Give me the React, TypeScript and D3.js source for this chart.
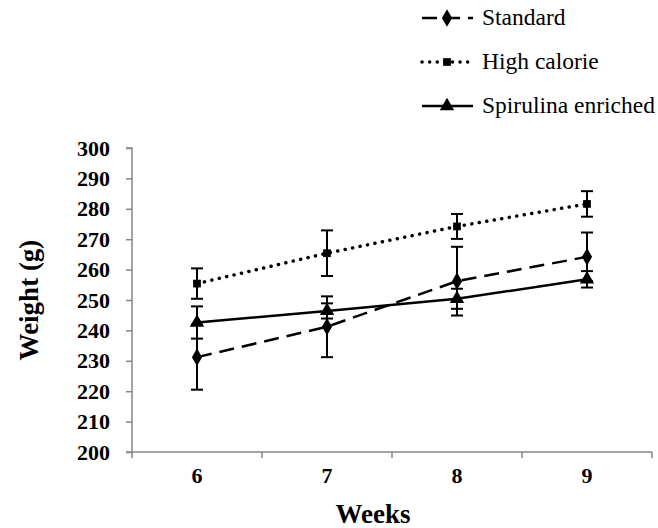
import * as d3 from 'd3';
import { useEffect, useRef } from 'react';

const weeks = ['6', '7', '8', '9'];
const yTicks = [200, 210, 220, 230, 240, 250, 260, 270, 280, 290, 300];

const standard = [231.2, 241.2, 256.2, 264.2];
const standardErr = [10.7, 10, 11.3, 8];
const highCalorie = [255.4, 265.4, 274.2, 281.6];
const highCalorieErr = [5, 7.5, 4.1, 4.2];
const spirulina = [242.6, 246.4, 250.4, 256.8];
const spirulinaErr = [5.3, 2.5, 3.3, 2.7];

const seriesNames = ['Standard', 'High calorie', 'Spirulina enriched'];

export default function App() {
    const ref = useRef<HTMLDivElement>(null);

    useEffect(() => {
        const width = 658;
        const height = 528;
        const margin = { top: 148, right: 6, bottom: 76, left: 132 };
        const font = '"Liberation Serif", "Times New Roman", serif';
        const axisColor = '#868686';

        const svg = d3
            .create('svg')
            .attr('width', width)
            .attr('height', height)
            .style('position', 'absolute')
            .style('left', 0)
            .style('top', 0)
            .style('background', '#fff');

        const x = d3
            .scaleBand()
            .domain(weeks)
            .range([margin.left, width - margin.right]);

        const y = d3
            .scaleLinear()
            .domain([200, 300])
            .range([height - margin.bottom, margin.top]);

        // y axis
        const yAxis = d3
            .axisLeft(y)
            .tickValues(yTicks)
            .tickSize(6)
            .tickPadding(16);
        const yg = svg
            .append('g')
            .attr('transform', `translate(${margin.left},0)`)
            .call(yAxis);
        yg.selectAll('path, line').attr('stroke', axisColor).attr('stroke-width', 1.5);
        yg.select('path.domain').attr('d', `M-6,${y(300)}H0V${y(200)}`);
        yg.selectAll('text')
            .attr('font-family', font)
            .attr('font-size', 22)
            .attr('font-weight', 'bold')
            .attr('fill', '#000');

        // x axis with ticks between categories
        const xg = svg.append('g');
        xg.append('line')
            .attr('x1', margin.left - 6)
            .attr('x2', width - margin.right)
            .attr('y1', y(200))
            .attr('y2', y(200))
            .attr('stroke', axisColor)
            .attr('stroke-width', 1.5);
        const bounds = [...weeks.map(w => x(w)!), x(weeks[weeks.length - 1])! + x.bandwidth()];
        xg.selectAll('line.tick')
            .data(bounds)
            .join('line')
            .attr('class', 'tick')
            .attr('x1', d => d)
            .attr('x2', d => d)
            .attr('y1', y(200))
            .attr('y2', y(200) + 6)
            .attr('stroke', axisColor)
            .attr('stroke-width', 1.5);
        xg.selectAll('text')
            .data(weeks)
            .join('text')
            .attr('x', d => x(d)! + x.bandwidth() / 2)
            .attr('y', y(200) + 31)
            .attr('text-anchor', 'middle')
            .attr('font-family', font)
            .attr('font-size', 22)
            .attr('font-weight', 'bold')
            .text(d => d);

        // axis titles
        svg.append('text')
            .attr('x', 373)
            .attr('y', 523)
            .attr('text-anchor', 'middle')
            .attr('font-family', font)
            .attr('font-size', 27)
            .attr('font-weight', 'bold')
            .text('Weeks');
        svg.append('text')
            .attr('transform', `translate(38,${(y(200) + y(300)) / 2}) rotate(-90)`)
            .attr('text-anchor', 'middle')
            .attr('font-family', font)
            .attr('font-size', 27)
            .attr('font-weight', 'bold')
            .text('Weight (g)');

        const series = [
            { name: seriesNames[0], values: standard, err: standardErr, dash: '15,8', cap: 'butt', marker: d3.symbolDiamond, msize: 90 },
            { name: seriesNames[1], values: highCalorie, err: highCalorieErr, dash: '0.1,7.5', cap: 'round', marker: d3.symbolSquare, msize: 60 },
            { name: seriesNames[2], values: spirulina, err: spirulinaErr, dash: null, cap: 'butt', marker: d3.symbolTriangle, msize: 90 },
        ];

        const cx = (i: number) => x(weeks[i])! + x.bandwidth() / 2;
        const line = d3
            .line<number>()
            .x((d, i) => cx(i))
            .y(d => y(d));

        series.forEach(s => {
            const g = svg.append('g');
            // error bars
            s.values.forEach((v, i) => {
                const lo = y(v - s.err[i]);
                const hi = y(v + s.err[i]);
                g.append('line')
                    .attr('x1', cx(i)).attr('x2', cx(i))
                    .attr('y1', lo).attr('y2', hi)
                    .attr('stroke', '#000').attr('stroke-width', 2);
                [lo, hi].forEach(yy => {
                    g.append('line')
                        .attr('x1', cx(i) - 6).attr('x2', cx(i) + 6)
                        .attr('y1', yy).attr('y2', yy)
                        .attr('stroke', '#000').attr('stroke-width', 2);
                });
            });
            g.append('path')
                .attr('d', line(s.values))
                .attr('fill', 'none')
                .attr('stroke', '#000')
                .attr('stroke-width', s.cap === 'round' ? 3.5 : 2.5)
                .attr('stroke-linecap', s.cap)
                .attr('stroke-dasharray', s.dash);
            g.selectAll('path.marker')
                .data(s.values)
                .join('path')
                .attr('class', 'marker')
                .attr('transform', (d, i) => `translate(${cx(i)},${y(d)})`)
                .attr('d', d3.symbol(s.marker, s.msize)())
                .attr('fill', '#000');
        });

        // legend
        const legend = svg.append('g');
        series.forEach((s, i) => {
            const ly = 18 + i * 44;
            legend.append('line')
                .attr('x1', 422).attr('x2', 473)
                .attr('y1', ly).attr('y2', ly)
                .attr('stroke', '#000')
                .attr('stroke-width', s.cap === 'round' ? 3.5 : 2.5)
                .attr('stroke-linecap', s.cap)
                .attr('stroke-dasharray', s.dash);
            legend.append('path')
                .attr('transform', `translate(447,${ly})`)
                .attr('d', d3.symbol(s.marker, s.msize)())
                .attr('fill', '#000');
            legend.append('text')
                .attr('x', 482)
                .attr('y', ly + 7)
                .attr('font-family', font)
                .attr('font-size', 23.5)
                .text(s.name);
        });

        ref.current?.append(svg.node()!);
        return () => {
            svg.remove();
        };
    }, []);

    return <div ref={ref}></div>;
}
